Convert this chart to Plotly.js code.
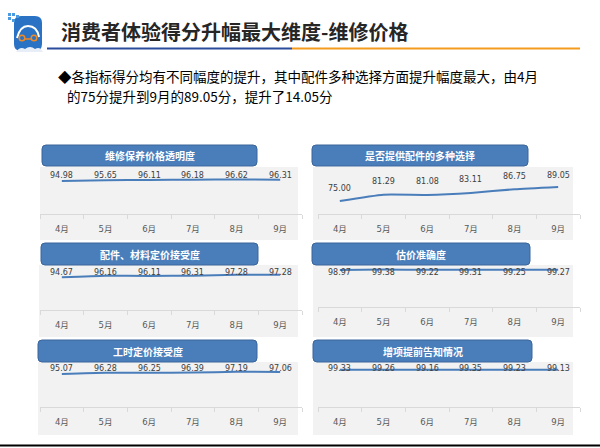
<!DOCTYPE html>
<html>
<head>
<meta charset="utf-8">
<script src="https://cdn.plot.ly/plotly-3.0.1.min.js"></script>
<style>html,body{margin:0;padding:0;background:#fff;}#chart{width:600px;height:448px;}</style>
</head>
<body>
<div id="chart"></div>
<script>
// ---- data ----
const months = ['4月', '5月', '6月', '7月', '8月', '9月'];
const seriesNames = ['维修保养价格透明度', '是否提供配件的多种选择', '配件、材料定价接受度', '估价准确度', '工时定价接受度', '增项提前告知情况'];
const transparency = [94.98, 95.65, 96.11, 96.18, 96.62, 96.31];
const partsChoice = [75.00, 81.29, 81.08, 83.11, 86.75, 89.05];
const partsPricing = [94.67, 96.16, 96.11, 96.31, 97.28, 97.28];
const estimateAccuracy = [98.97, 99.38, 99.22, 99.31, 99.25, 99.27];
const laborPricing = [95.07, 96.28, 96.25, 96.39, 97.19, 97.06];
const advanceNotice = [99.33, 99.26, 99.16, 99.35, 99.23, 99.13];
const pageTitle = '消费者体验得分升幅最大维度-维修价格';
const noteLine1 = '◆各指标得分均有不同幅度的提升，其中配件多种选择方面提升幅度最大，由4月';
const noteLine2 = '的75分提升到9月的89.05分，提升了14.05分';

// ---- layout helpers (pixel -> paper) ----
const W = 600, H = 448;
const X = v => v / W;
const Y = v => 1 - v / H;
function roundRect(x0, y0, x1, y1, r) {
  return `M${X(x0 + r)},${Y(y0)} L${X(x1 - r)},${Y(y0)} Q${X(x1)},${Y(y0)} ${X(x1)},${Y(y0 + r)} ` +
    `L${X(x1)},${Y(y1 - r)} Q${X(x1)},${Y(y1)} ${X(x1 - r)},${Y(y1)} L${X(x0 + r)},${Y(y1)} ` +
    `Q${X(x0)},${Y(y1)} ${X(x0)},${Y(y1 - r)} L${X(x0)},${Y(y0 + r)} Q${X(x0)},${Y(y0)} ${X(x0 + r)},${Y(y0)} Z`;
}

const seriesList = [transparency, partsChoice, partsPricing, estimateAccuracy, laborPricing, advanceNotice];
const panelGeom = [
  {left: true,  axisY: 214, labelY: 175, box: [42, 145, 257, 166], bg: [40, 167, 298, 240]},
  {left: false, axisY: 214, labelY: 175, box: [312, 145, 528, 166], bg: [313, 167, 573, 240]},
  {left: true,  axisY: 310, labelY: 272, box: [41, 243, 258, 265], bg: [39, 265, 298, 337]},
  {left: false, axisY: 307, labelY: 272, box: [312, 243, 530, 265], bg: [313, 265, 573, 337]},
  {left: true,  axisY: 407, labelY: 368, box: [38, 340, 257, 362], bg: [38, 362, 298, 435]},
  {left: false, axisY: 407, labelY: 368, box: [313, 340, 532, 362], bg: [313, 362, 573, 435]}
];
const Y_MIN = 62, Y_MAX = 110, PLOT_H = 48; // 1px per unit
const LINE_COLOR = '#4a7ebb';

const traces = [];
const shapes = [];
const annotations = [];
const layout = {
  width: W, height: H,
  margin: {l: 0, r: 0, t: 0, b: 0},
  paper_bgcolor: '#ffffff',
  plot_bgcolor: 'rgba(0,0,0,0)',
  showlegend: false,
  font: {family: '"Noto Sans CJK SC", "DejaVu Sans", sans-serif'}
};

seriesList.forEach((vals, i) => {
  const g = panelGeom[i];
  const n = i + 1;
  const xa = 'xaxis' + (n === 1 ? '' : n);
  const ya = 'yaxis' + (n === 1 ? '' : n);
  const xr = 'x' + (n === 1 ? '' : n);
  const yr = 'y' + (n === 1 ? '' : n);
  const xd = g.left ? [40, 302] : [318, 580];
  layout[xa] = {
    domain: [X(xd[0]), X(xd[1])],
    anchor: yr,
    type: 'category',
    range: [-0.5, 5.5],
    showline: true, linecolor: '#d9d9d9', linewidth: 1,
    ticks: 'outside', tickson: 'boundaries', ticklen: 4, tickcolor: '#d9d9d9', tickwidth: 1,
    tickfont: {family: '"DejaVu Sans", "Noto Sans CJK SC"', size: 8.5, color: '#595959'},
    ticklabelstandoff: 7,
    showgrid: false, zeroline: false, fixedrange: true
  };
  layout[ya] = {
    domain: [Y(g.axisY), Y(g.axisY - PLOT_H)],
    anchor: xr,
    range: [Y_MIN, Y_MAX],
    visible: false, fixedrange: true
  };
  traces.push({
    type: 'scatter', mode: 'lines',
    x: months, y: vals, xaxis: xr, yaxis: yr,
    line: {color: LINE_COLOR, width: 2, shape: 'spline', smoothing: 0.5},
    hoverinfo: 'skip'
  });
  // data labels: 13px above point, kept inside the plot area top
  const cap = Y_MIN + (g.axisY - g.labelY);
  vals.forEach((v, k) => {
    annotations.push({
      xref: xr, yref: yr, x: months[k], y: Math.min(v + 13, cap),
      text: v.toFixed(2), showarrow: false, xanchor: 'center', yanchor: 'middle',
      font: {family: '"DejaVu Sans"', size: 8, color: '#404040'}
    });
  });
  // panel grey background
  shapes.push({type: 'rect', xref: 'paper', yref: 'paper', layer: 'below',
    x0: X(g.bg[0]), x1: X(g.bg[2]), y0: Y(g.bg[3]), y1: Y(g.bg[1]),
    fillcolor: '#f2f2f2', line: {width: 0}});
  // title box
  shapes.push({type: 'path', xref: 'paper', yref: 'paper', layer: 'above',
    path: roundRect(g.box[0], g.box[1], g.box[2], g.box[3], 4),
    fillcolor: '#4a7ebb', line: {color: '#3a659a', width: 1}});
  annotations.push({xref: 'paper', yref: 'paper',
    x: X((g.box[0] + g.box[2]) / 2), y: Y((g.box[1] + g.box[3]) / 2),
    text: '<b>' + seriesNames[i] + '</b>', showarrow: false, xanchor: 'center', yanchor: 'middle',
    font: {family: '"Noto Sans CJK SC"', size: 10, color: '#ffffff'}});
});

// header lines
shapes.push({type: 'line', xref: 'paper', yref: 'paper', x0: X(47), x1: X(292), y0: Y(48.5), y1: Y(48.5), line: {color: '#2b4c9b', width: 2}});
shapes.push({type: 'line', xref: 'paper', yref: 'paper', x0: X(292), x1: X(580), y0: Y(48.5), y1: Y(48.5), line: {color: '#f49b1e', width: 2}});
// bottom rule
shapes.push({type: 'line', xref: 'paper', yref: 'paper', x0: 0, x1: 1, y0: Y(445.5), y1: Y(445.5), line: {color: '#000000', width: 2}});
// logo
shapes.push({type: 'path', xref: 'paper', yref: 'paper',
  path: roundRect(14, 16, 42, 51, 7), fillcolor: '#2a72c4', line: {width: 0}});
[[8, 13], [12, 13], [8, 17], [12, 19], [16, 15]].forEach(p => {
  shapes.push({type: 'rect', xref: 'paper', yref: 'paper', x0: X(p[0]), x1: X(p[0] + 3), y0: Y(p[1] + 3), y1: Y(p[1]),
    fillcolor: '#4a9be0', line: {width: 0}});
});
shapes.push({type: 'path', xref: 'paper', yref: 'paper',
  path: `M${X(17)},${Y(38)} Q${X(20)},${Y(26)} ${X(28)},${Y(26)} Q${X(37)},${Y(26)} ${X(39)},${Y(37)}`,
  line: {color: '#ffffff', width: 2}});
[[22, 38], [34, 38]].forEach(c => {
  shapes.push({type: 'circle', xref: 'paper', yref: 'paper', x0: X(c[0] - 2.8), x1: X(c[0] + 2.8), y0: Y(c[1] + 2.8), y1: Y(c[1] - 2.8),
    fillcolor: '#2a72c4', line: {color: '#f08a24', width: 1.5}});
});
shapes.push({type: 'line', xref: 'paper', yref: 'paper', x0: X(25), x1: X(31), y0: Y(39), y1: Y(39), line: {color: '#f08a24', width: 1.5}});
shapes.push({type: 'path', xref: 'paper', yref: 'paper',
  path: `M${X(16)},${Y(52)} Q${X(20)},${Y(46)} ${X(25)},${Y(49)} Q${X(30)},${Y(45)} ${X(35)},${Y(49)} Q${X(40)},${Y(46)} ${X(43)},${Y(52)} Z`,
  fillcolor: '#e8eef7', line: {width: 0}});

// page title and notes
annotations.push({xref: 'paper', yref: 'paper', x: X(59), y: Y(32), xanchor: 'left', yanchor: 'middle',
  text: '<b>' + pageTitle + '</b>', showarrow: false,
  font: {family: '"Noto Sans CJK SC"', size: 20, color: '#262626'}});
annotations.push({xref: 'paper', yref: 'paper', x: X(56), y: Y(76), xanchor: 'left', yanchor: 'middle',
  text: noteLine1, showarrow: false,
  font: {family: '"Noto Sans CJK SC"', size: 13.5, color: '#000000'}});
annotations.push({xref: 'paper', yref: 'paper', x: X(65), y: Y(96), xanchor: 'left', yanchor: 'middle',
  text: noteLine2, showarrow: false,
  font: {family: '"Noto Sans CJK SC"', size: 13.5, color: '#000000'}});

layout.shapes = shapes;
layout.annotations = annotations;

Plotly.newPlot('chart', traces, layout, {staticPlot: true, displayModeBar: false});
</script>
</body>
</html>
